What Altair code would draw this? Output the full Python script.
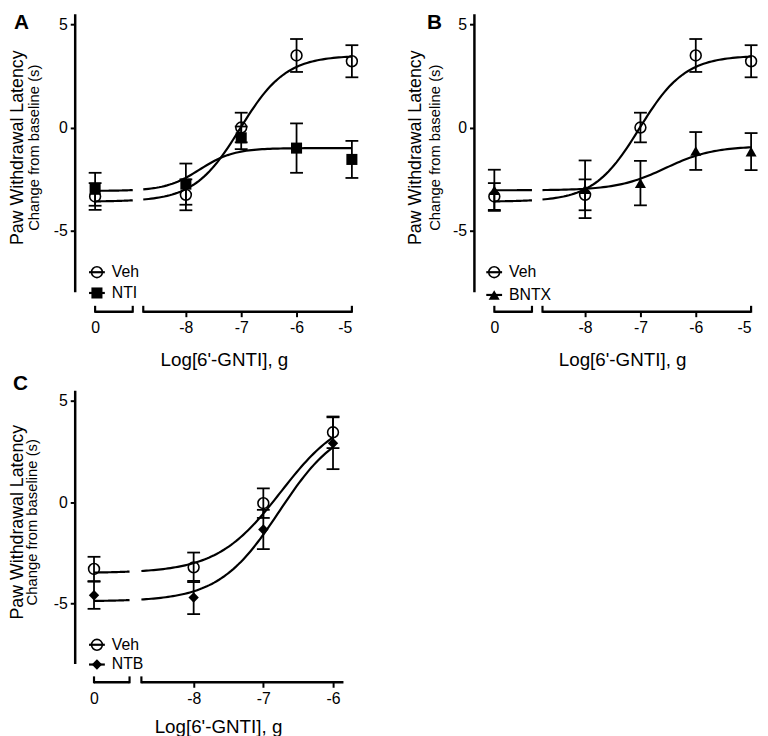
import altair as alt
import numpy as np
import pandas as pd

FONT = "Liberation Sans"

# ---------------- data ----------------
doses_AB = [0, -8, -7, -6, -5]
doses_C = [0, -8, -7, -6]

veh_AB_mean = [-3.35, -3.27, 0.0, 3.5, 3.22]
veh_AB_sem = [0.65, 0.75, 0.72, 0.8, 0.78]
nti_mean = [-3.0, -2.75, -0.5, -1.0, -1.55]
nti_sem = [0.8, 1.0, 0.55, 1.2, 0.9]
bntx_mean = [-3.05, -3.0, -2.7, -1.14, -1.17]
bntx_sem = [1.0, 1.4, 1.08, 0.92, 0.9]
veh_C_mean = [-3.3, -3.22, -0.05, 3.45]
veh_C_sem = [0.6, 0.73, 0.73, 0.78]
ntb_mean = [-4.6, -4.71, -1.35, 2.91]
ntb_sem = [0.67, 0.82, 0.97, 1.28]

# fitted sigmoid parameters: bottom, top, logEC50, Hill slope
veh_AB_fit = [-3.6, 3.5, -7.02, 1.05]
nti_fit = [-3.08, -1.0, -7.75, 1.4]
bntx_fit = [-3.05, -0.9, -6.55, 1.0]
veh_C_fit = [-3.5, 4.5, -6.75, 0.95]
ntb_fit = [-4.9, 4.0, -6.77, 1.0]

y_ticks = [-5, 0, 5]


def sigmoid(x, p):
    b, t, e, h = p
    return b + (t - b) / (1.0 + 10 ** ((e - x) * h))


def panel(letter, doses, groups, zero_pos, gap, x_end, x_dom, px_log, px_unit,
          y_dom, legend, letter_xy, paw_dx, chg_dx, title_y, xtitle_cx, ytitle_cy):
    width = round((x_dom[1] - x_dom[0]) * px_log)
    height = round((y_dom[1] - y_dom[0]) * px_unit)
    xs = alt.Scale(domain=x_dom, nice=False, zero=False)
    ys = alt.Scale(domain=y_dom, nice=False, zero=False)
    xpos = [zero_pos if d == 0 else d for d in doses]
    last = max(xpos)

    x_axis = alt.Axis(
        values=xpos, domain=False, grid=False, ticks=True, tickSize=5,
        tickWidth=2, tickColor="black",
        tickOpacity={"condition": {"test": f"datum.value < -8.5 || datum.value > {x_end - 0.01}", "value": 0}, "value": 1},
        labelExpr="datum.value < -8.5 ? '0' : '' + datum.value",
        labelFontSize=16, labelFont=FONT, labelColor="black", labelPadding=3,
        title=None)
    y_axis = alt.Axis(
        values=y_ticks, domain=False, grid=False, ticks=True, tickSize=5,
        tickWidth=2, tickColor="black", labelExpr="'' + datum.value",
        labelFontSize=16, labelFont=FONT, labelColor="black", labelPadding=3,
        title=None)

    def X(f="x"):
        return alt.X(f"{f}:Q", scale=xs, axis=x_axis, title=None)

    def Y(f="y"):
        return alt.Y(f"{f}:Q", scale=ys, axis=y_axis, title=None)

    rows = []
    for name, mean, sem, shape, filled, fit in groups:
        for xp, m, s in zip(xpos, mean, sem):
            rows.append({"g": name, "x": xp, "y": m, "lo": m - s, "hi": m + s})
    pts = pd.DataFrame(rows)

    crows = []
    for name, mean, sem, shape, filled, fit in groups:
        for seg, (a, b) in enumerate([(zero_pos, gap[0]), (gap[1], last)]):
            for xv in np.linspace(a, b, 80):
                crows.append({"k": f"{name}{seg}", "x": xv, "y": sigmoid(xv, fit)})
    curves = pd.DataFrame(crows)

    layers = []
    # y axis line
    ax_df = pd.DataFrame({"x": [x_dom[0]], "y": [-8.0], "y2": [5.5]})
    layers.append(alt.Chart(ax_df).mark_rule(color="black", strokeWidth=2.5).encode(
        x=X(), y=Y(), y2="y2:Q"))
    # x axis segments
    seg_df = pd.DataFrame({"x": [zero_pos, gap[1]], "x2": [gap[0], x_end]})
    layers.append(alt.Chart(seg_df).mark_rule(color="black", strokeWidth=2.5).encode(
        x=X(), x2="x2:Q", y=alt.value(height)))
    caps = [zero_pos, gap[0], gap[1]] + ([x_end] if x_end == last else [])
    cap_df = pd.DataFrame({"x": caps})
    layers.append(alt.Chart(cap_df).mark_rule(color="black", strokeWidth=2.2).encode(
        x=X(), y=alt.value(height + 1), y2=alt.value(height - 6)))
    # curves
    layers.append(alt.Chart(curves).mark_line(color="black", strokeWidth=2.2).encode(
        x=X(), y=Y(), detail="k:N"))
    # error bars
    layers.append(alt.Chart(pts).mark_rule(color="black", strokeWidth=1.8).encode(
        x=X(), y=Y("lo"), y2="hi:Q"))
    for col in ["lo", "hi"]:
        layers.append(alt.Chart(pts).mark_tick(color="black", orient="horizontal", size=13,
                                               thickness=1.8, opacity=1).encode(
            x=X(), y=Y(col)))

    def marker(df, shape, filled):
        if filled:
            return alt.Chart(df).mark_point(shape=shape, filled=True,
                                            size=125 if shape != "diamond" else 110,
                                            color="black", opacity=1)
        return alt.Chart(df).mark_point(shape=shape, filled=False, size=120, color="black",
                                        strokeWidth=1.6, opacity=1)

    for name, mean, sem, shape, filled, fit in groups:
        sub = pts[pts["g"] == name]
        layers.append(marker(sub, shape, filled).encode(x=X(), y=Y()))
    # legend
    one = pd.DataFrame({"a": [0]})
    lx, ly, ldy = legend
    for i, (name, mean, sem, shape, filled, fit) in enumerate(groups):
        yy = ly + i * ldy
        layers.append(alt.Chart(one).mark_rule(color="black", strokeWidth=2.2).encode(
            x=alt.value(lx - 8), x2=alt.value(lx + 8), y=alt.value(yy)))
        layers.append(marker(one, shape, filled).encode(x=alt.value(lx), y=alt.value(yy)))
        layers.append(alt.Chart(one).mark_text(align="left", baseline="middle", fontSize=16,
                                               font=FONT, color="black").encode(
            x=alt.value(lx + 15), y=alt.value(yy), text=alt.value(name)))
    # titles
    layers.append(alt.Chart(one).mark_text(angle=270, align="center", baseline="middle",
                                           fontSize=18, font=FONT, color="black").encode(
        x=alt.value(paw_dx), y=alt.value(ytitle_cy), text=alt.value("Paw Withdrawal Latency")))
    layers.append(alt.Chart(one).mark_text(angle=270, align="center", baseline="middle",
                                           fontSize=15, font=FONT, color="black").encode(
        x=alt.value(chg_dx), y=alt.value(ytitle_cy), text=alt.value("Change from baseline (s)")))
    layers.append(alt.Chart(one).mark_text(align="center", baseline="middle",
                                           fontSize=19, font=FONT, color="black").encode(
        x=alt.value(xtitle_cx), y=alt.value(title_y), text=alt.value("Log[6'-GNTI], g")))
    layers.append(alt.Chart(one).mark_text(align="left", baseline="top", fontSize=21,
                                           fontWeight="bold", font=FONT, color="black").encode(
        x=alt.value(letter_xy[0]), y=alt.value(letter_xy[1]), text=alt.value(letter)))

    return alt.layer(*layers).properties(width=width, height=height)


yA = [-8.95, 5.5]
chart_A = panel("A", doses_AB,
                [("Veh", veh_AB_mean, veh_AB_sem, "circle", False, veh_AB_fit),
                 ("NTI", nti_mean, nti_sem, "square", True, nti_fit)],
                zero_pos=-9.64, gap=(-8.96, -8.77), x_end=-5, x_dom=[-10, -5],
                px_log=56, px_unit=20.8, y_dom=yA, legend=(22, 261, 21),
                letter_xy=(-62, -2), paw_dx=-58, chg_dx=-42, title_y=350,
                xtitle_cx=151, ytitle_cy=135)
chart_B = panel("B", doses_AB,
                [("Veh", veh_AB_mean, veh_AB_sem, "circle", False, veh_AB_fit),
                 ("BNTX", bntx_mean, bntx_sem, "triangle-up", True, bntx_fit)],
                zero_pos=-9.64, gap=(-8.96, -8.77), x_end=-5, x_dom=[-10, -5],
                px_log=56, px_unit=20.8, y_dom=yA, legend=(20, 261, 23),
                letter_xy=(-48, -2), paw_dx=-59, chg_dx=-40, title_y=350,
                xtitle_cx=150, ytitle_cy=135)
chart_C = panel("C", doses_C,
                [("Veh", veh_C_mean, veh_C_sem, "circle", False, veh_C_fit),
                 ("NTB", ntb_mean, ntb_sem, "diamond", True, ntb_fit)],
                zero_pos=-9.43, gap=(-8.92, -8.75), x_end=-5.85, x_dom=[-9.7, -5.8],
                px_log=70.5, px_unit=20.5, y_dom=[-8.9, 5.5], legend=(22, 257, 20),
                letter_xy=(-63, -18), paw_dx=-58, chg_dx=-44, title_y=340,
                xtitle_cx=145, ytitle_cy=133)

chart = alt.concat(chart_A, chart_B, chart_C, columns=2,
                   spacing=alt.RowColnumber(row=80, column=124),
                   bounds="flush").properties(padding=0).configure_view(stroke=None)

chart.save("out.html", embed_options={"renderer": "svg", "actions": False})
